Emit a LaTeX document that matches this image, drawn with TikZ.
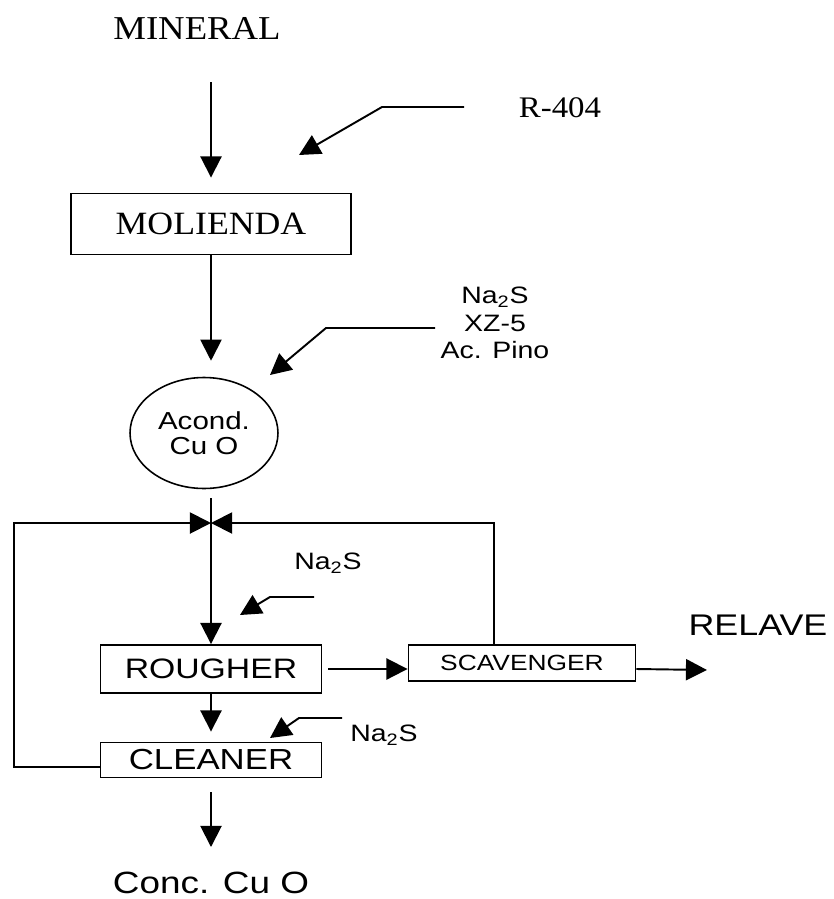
\documentclass[tikz,border=0pt]{standalone}
\usepackage{fontspec}
\newfontfamily\serifa[FakeStretch=1.1]{Liberation Serif}
\newfontfamily\sansa[FakeStretch=1.2]{Liberation Sans}
\usetikzlibrary{arrows.meta,shapes.geometric}

\begin{document}
\begin{tikzpicture}[
    x=0.02cm, y=-0.02cm,
    >={Triangle[length=12pt,width=12pt]},
    line width=1.1pt,
    caja/.style={draw, line width=1.1pt, inner sep=0pt},
    rotulo/.style={inner sep=0pt, align=center}
  ]
  \useasboundingbox (0,0) rectangle (833,899);

  % ── etapas ───────────────────────────────────────────────────────
  \node[rotulo, font=\serifa\fontsize{19}{21}\selectfont] (mineral) at (197,28) {MINERAL};
  \node[caja, minimum width=5.6cm, minimum height=1.22cm,
        font=\serifa\fontsize{18.5}{20}\selectfont] (molienda) at (211,224) {MOLIENDA};
  \node[ellipse, draw, line width=0.9pt, inner sep=0pt,
        minimum width=2.96cm, minimum height=2.22cm,
        align=center, font=\sansa\fontsize{14}{14.5}\selectfont] (acond) at (204,433) {Acond.\\Cu O};
  \node[caja, minimum width=4.42cm, minimum height=0.96cm,
        font=\sansa\fontsize{16}{17}\selectfont] (rougher) at (211,669) {ROUGHER};
  \node[caja, minimum width=4.54cm, minimum height=0.72cm,
        font=\sansa\fontsize{12.5}{14}\selectfont] (scavenger) at (522,663) {SCAVENGER};
  \node[caja, minimum width=4.42cm, minimum height=0.70cm,
        font=\sansa\fontsize{16.5}{18}\selectfont] (cleaner) at (211,760) {CLEANER};

  % ── reactivos y productos ────────────────────────────────────────
  \node[rotulo, font=\serifa\fontsize{17}{19}\selectfont] (r404) at (560,108) {R-404};
  \node[rotulo, font=\sansa\fontsize{13.5}{15.6}\selectfont] (reactivos) at (495,323)
    {Na\textsubscript{2}S\\XZ-5\\Ac. Pino};
  \node[rotulo, font=\sansa\fontsize{13.5}{15}\selectfont] (nas1) at (328,563) {Na\textsubscript{2}S};
  \node[rotulo, font=\sansa\fontsize{13.5}{15}\selectfont] (nas2) at (384,735) {Na\textsubscript{2}S};
  \node[rotulo, font=\sansa\fontsize{17}{19}\selectfont] (relave) at (758,625) {RELAVE};
  \node[rotulo, font=\sansa\fontsize{17.5}{19}\selectfont] (conc) at (211,883) {Conc. Cu O};

  \coordinate (entrada) at (211,82);
  \coordinate (union)   at (211,523);
  \coordinate (salida)  at (707,670);
  \coordinate (fin)     at (211,847);

  % ── flujo principal ──────────────────────────────────────────────
  \draw[->, shorten >=0.3cm] (entrada) -- (molienda.north);
  \draw[->, shorten >=0.32cm] (molienda.south) -- (molienda.south |- acond.north);
  \draw[->, shorten <=0.18cm] (acond.south -| rougher.north) -- (rougher.north);
  \draw[->, shorten >=0.2cm] (rougher.south) -- (cleaner.north);
  \draw[->, shorten <=0.28cm] (cleaner.south) -- (fin);
  \draw[->, shorten <=0.12cm] (rougher.east) -- (rougher.east -| scavenger.west);
  \draw[->] (scavenger.east |- rougher.east) -- (salida);

  % ── recirculaciones ──────────────────────────────────────────────
  \draw[->] ([yshift=-0.14cm]cleaner.west) -- ++(-86,0) |- (union);
  \draw[->] ([xshift=-0.56cm]scavenger.north) |- (union);

  % ── adición de reactivos ─────────────────────────────────────────
  \draw[->] (464,107) -- ++(-82,0) -- (299,155);
  \draw[->] (435,328) -- ++(-109,0) -- (270,375);
  \draw[->] (314,597) -- ++(-44,0) -- (240,615);
  \draw[->] (342,718) -- ++(-43,0) -- (270,738);

\end{tikzpicture}
\end{document}
